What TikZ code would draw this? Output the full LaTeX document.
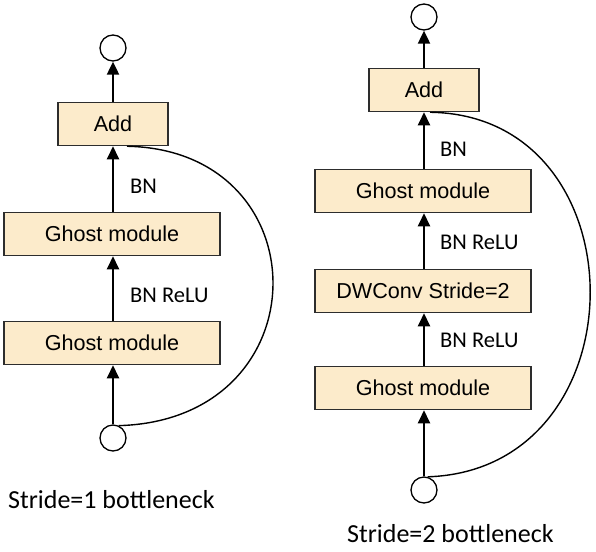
\documentclass[tikz,border=0pt]{standalone}
\usepackage{fontspec}
\setmainfont{Liberation Sans}
\newfontfamily\carlitofont{Carlito}
\usetikzlibrary{arrows.meta}
\definecolor{boxfill}{RGB}{252,235,203}
\definecolor{boxline}{RGB}{45,45,45}
\tikzset{
  blk/.style={draw=boxline, line width=1.5pt, fill=boxfill, inner sep=0pt, font=\fontsize{21.6}{24}\selectfont},
  wide/.style={blk, minimum width=216pt, minimum height=43pt},
  narrow/.style={blk, minimum width=110pt, minimum height=43pt},
  io/.style={circle, draw, line width=1.3pt, minimum size=26pt, inner sep=0pt},
  flow/.style={line width=2pt, -{Triangle[length=13pt,width=12pt]}},
  skip/.style={line width=1.4pt},
  lab/.style={font=\carlitofont\fontsize{22.5}{25}\selectfont, anchor=west, inner sep=0pt},
  captext/.style={font=\carlitofont\fontsize{26}{28}\selectfont, inner sep=0pt, anchor=west}
}
\begin{document}
\begin{tikzpicture}[x=1pt,y=-1pt]
\useasboundingbox (0,0) rectangle (596,551);
% left
\node[io] (lout) at (113,48) {};
\node[narrow] (ladd) at (113,124) {Add};
\node[wide] (lg2) at (112,234) {Ghost module};
\node[wide] (lg1) at (112,343) {Ghost module};
\node[io] (lin) at (113,438) {};
\draw[flow] (lin) -- (lin |- lg1.south);
\draw[flow] (lg1.north -| lin) -- (lg2.south -| lin);
\draw[flow] (lg2.north -| lin) -- (ladd.south -| lin);
\draw[flow] (ladd.north -| lin) -- (lout);
\node[lab] (lbn) at (130,186) {BN};
\node[lab] (lbr) at (130,295) {BN ReLU};
\draw[skip] ([xshift=14pt]ladd.south) .. controls (323,150) and (323,420) .. (lin.65);
\node[captext] (lcap) at (8,500) {Stride=1 bottleneck};
% right
\node[io] (rout) at (424,17) {};
\node[narrow] (radd) at (424,90) {Add};
\node[wide] (rg2) at (423,191) {Ghost module};
\node[wide] (rdw) at (423,291) {DWConv Stride=2};
\node[wide] (rg1) at (423,388) {Ghost module};
\node[io] (rin) at (424,490) {};
\draw[flow] (rin) -- (rin |- rg1.south);
\draw[flow] (rg1.north -| rin) -- (rdw.south -| rin);
\draw[flow] (rdw.north -| rin) -- (rg2.south -| rin);
\draw[flow] (rg2.north -| rin) -- (radd.south -| rin);
\draw[flow] (radd.north -| rin) -- (rout);
\node[lab] (rbn) at (440,149) {BN};
\node[lab] (rbr2) at (440,242) {BN ReLU};
\node[lab] (rbr1) at (440,340) {BN ReLU};
\draw[skip] ([xshift=6pt]radd.south) .. controls (644,115) and (644,470) .. (rin.75);
\node[captext] (rcap) at (347,534) {Stride=2 bottleneck};
\end{tikzpicture}
\end{document}
